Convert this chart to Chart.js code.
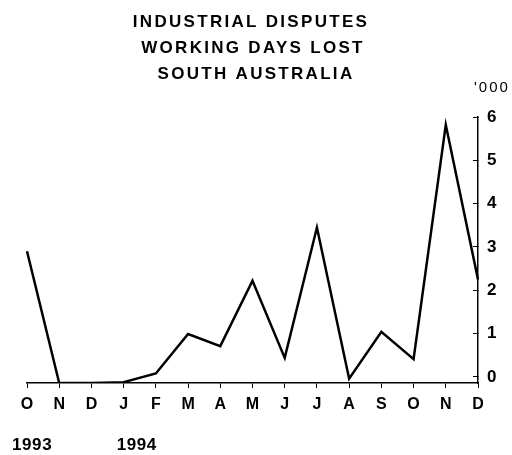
<!DOCTYPE html>
<html>
<head>
<meta charset="utf-8">
<script src="https://cdn.jsdelivr.net/npm/chart.js@4/dist/chart.umd.min.js"></script>
<style>
  html, body { margin: 0; padding: 0; background: #fff; }
  #wrap { width: 512px; height: 455px; }
</style>
</head>
<body>
<div id="wrap"><canvas id="c" width="512" height="455"></canvas></div>
<script>
const titleLines = ['INDUSTRIAL DISPUTES', 'WORKING DAYS LOST', 'SOUTH AUSTRALIA'];
const unitLabel = "'000";
const months = ['O','N','D','J','F','M','A','M','J','J','A','S','O','N','D'];
const yearLabels = [{ index: 0, text: '1993' }, { index: 3, text: '1994' }];
const daysLost = [2.9, -0.14, -0.14, -0.12, 0.08, 0.99, 0.71, 2.22, 0.44, 3.45, -0.04, 1.04, 0.41, 5.82, 2.25];
const yTicks = [0, 1, 2, 3, 4, 5, 6];
const yMin = -0.14;
const yMax = 6;

const FONT = "'Liberation Sans', Arial, sans-serif";

const extraText = {
  id: 'extraText',
  afterDraw(chart) {
    const ctx = chart.ctx;
    ctx.save();
    ctx.fillStyle = '#000';
    ctx.textBaseline = 'middle';
    ctx.textAlign = 'center';
    ctx.font = 'bold 17px ' + FONT;
    try { ctx.letterSpacing = '2.3px'; } catch (e) {}
    const ys = [22, 48, 74];
    const xs = [251, 253, 256];
    titleLines.forEach((t, i) => ctx.fillText(t, xs[i], ys[i]));
    ctx.font = '15px ' + FONT;
    try { ctx.letterSpacing = '2px'; } catch (e) {}
    ctx.textAlign = 'left';
    ctx.fillText(unitLabel, 474, 88);
    try { ctx.letterSpacing = '0.6px'; } catch (e) {}
    const xs2 = chart.scales.x;
    ctx.font = 'bold 17px ' + FONT;
    yearLabels.forEach((y, i) => {
      const px = xs2.getPixelForValue(y.index);
      ctx.fillText(y.text, px - (i === 0 ? 15 : 7), 445);
    });
    ctx.restore();
  }
};

new Chart(document.getElementById('c'), {
  type: 'line',
  data: {
    labels: months,
    datasets: [{
      data: daysLost,
      borderColor: '#000',
      borderWidth: 2.5,
      pointRadius: 0,
      tension: 0,
      fill: false
    }]
  },
  options: {
    responsive: false,
    animation: false,
    layout: { padding: { left: 27, right: 0, top: 117, bottom: 0 } },
    plugins: { legend: { display: false }, title: { display: false }, tooltip: { enabled: false } },
    scales: {
      x: {
        type: 'category',
        offset: false,
        afterFit: s => { s.height = 72; },
        grid: { drawOnChartArea: false, drawTicks: true, tickLength: 5, color: '#000', lineWidth: 1 },
        border: { display: true, color: '#000', width: 1.5 },
        ticks: { color: '#000', font: { family: FONT, size: 16, weight: 'bold' }, padding: 7, maxRotation: 0, autoSkip: false }
      },
      y: {
        position: 'right',
        min: yMin,
        max: yMax,
        afterBuildTicks: s => { s.ticks = yTicks.map(v => ({ value: v })); },
        afterFit: s => { s.width = 34; },
        grid: { drawOnChartArea: false, drawTicks: true, tickLength: -5, color: '#000', lineWidth: 1 },
        border: { display: true, color: '#000', width: 1.5 },
        ticks: { color: '#000', font: { family: FONT, size: 17, weight: 'bold' }, padding: 14 }
      }
    }
  },
  plugins: [extraText]
});
</script>
</body>
</html>
